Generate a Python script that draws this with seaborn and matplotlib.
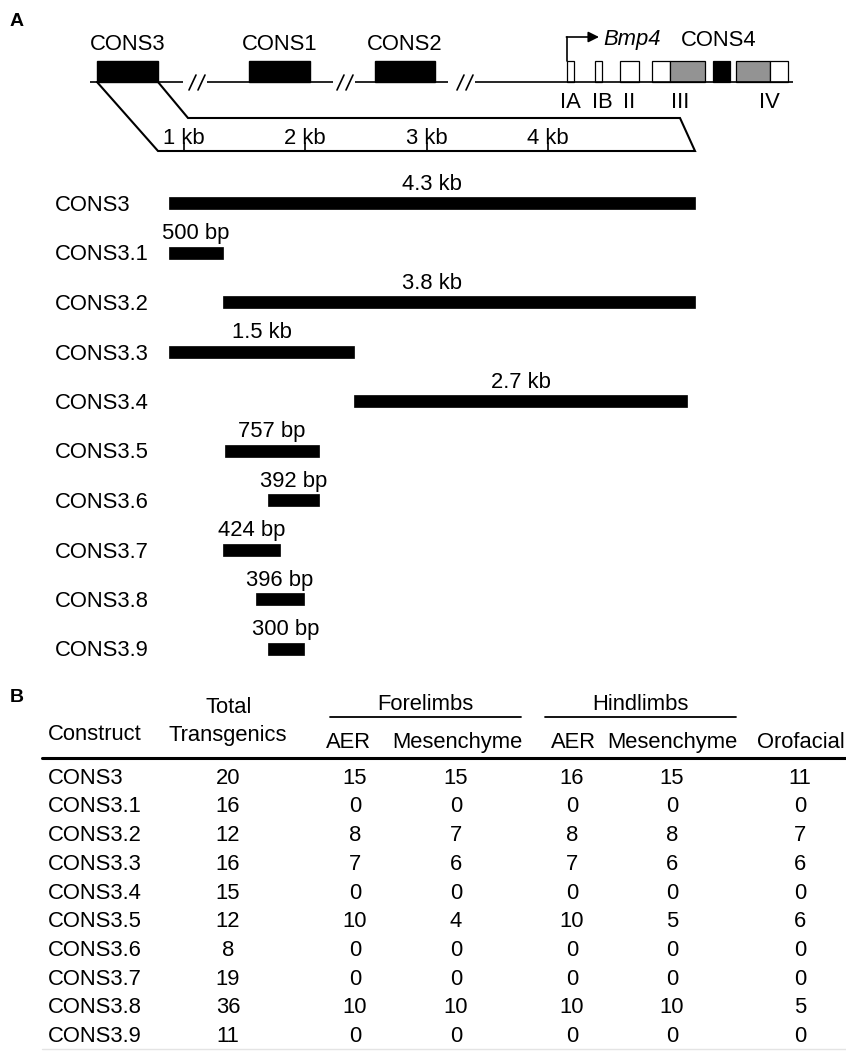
import numpy as np
import pandas as pd
import matplotlib
matplotlib.use("Agg")
import matplotlib.pyplot as plt
import matplotlib.transforms as mtransforms
from matplotlib.patches import Rectangle
import seaborn as sns

sns.set_theme(style="white")
plt.rcParams["font.family"] = ["Liberation Sans", "DejaVu Sans"]
plt.rcParams["text.color"] = "black"

# ---- data: CONS3 fragments (kb, on the scale of the enlarged region) ----
fragments = ["CONS3", "CONS3.1", "CONS3.2", "CONS3.3", "CONS3.4",
             "CONS3.5", "CONS3.6", "CONS3.7", "CONS3.8", "CONS3.9"]
frag_start = [0.88, 0.88, 1.32, 0.88, 2.40, 1.34, 1.69, 1.32, 1.59, 1.69]
frag_end = [5.21, 1.32, 5.21, 2.40, 5.15, 2.11, 2.11, 1.79, 1.99, 1.99]
frag_size = ["4.3 kb", "500 bp", "3.8 kb", "1.5 kb", "2.7 kb",
             "757 bp", "392 bp", "424 bp", "396 bp", "300 bp"]
scale_ticks = [1, 2, 3, 4]

# ---- data: table B ----
total = [20, 16, 12, 16, 15, 12, 8, 19, 36, 11]
fore_aer = [15, 0, 8, 7, 0, 10, 0, 0, 10, 0]
fore_mes = [15, 0, 7, 6, 0, 4, 0, 0, 10, 0]
hind_aer = [16, 0, 8, 7, 0, 10, 0, 0, 10, 0]
hind_mes = [15, 0, 8, 6, 0, 5, 0, 0, 10, 0]
orofacial = [11, 0, 7, 6, 0, 6, 0, 0, 5, 0]

df = pd.DataFrame({"Construct": fragments, "Total": total,
                   "F_AER": fore_aer, "F_Mes": fore_mes,
                   "H_AER": hind_aer, "H_Mes": hind_mes,
                   "Orofacial": orofacial})

FS = 15.8
CAP = 7.8  # half cap height in px, to place baselines

fig = plt.figure(figsize=(8.46, 10.52), dpi=100)
ax = fig.add_axes([0, 0, 1, 1])
ax.set_xlim(0, 846)
ax.set_ylim(1052, 0)
ax.axis("off")


def txt(x, y, s, ha="center", **kw):
    ax.text(x, y + CAP, s, ha=ha, va="baseline", fontsize=kw.pop("fontsize", FS),
            color="black", **kw)


# panel letters
ax.text(17, 19 + 6.8, "A", ha="center", va="baseline", fontsize=14, fontweight="bold")
ax.text(17, 695 + 6.8, "B", ha="center", va="baseline", fontsize=14, fontweight="bold")

# ---- locus schematic ----
LINE_Y = 82
BOX_TOP = 61
for x0, x1 in [(90, 183), (207, 333), (355, 448), (475, 793)]:
    ax.plot([x0, x1], [LINE_Y, LINE_Y], color="black", lw=1.2, solid_capstyle="butt")
for bx in [189, 337, 457]:
    for dx in [0, 9]:
        ax.plot([bx + dx, bx + dx + 7], [90, 75], color="black", lw=1.2)

for (x0, x1), name in zip([(97, 158), (249, 310), (375, 435)], ["CONS3", "CONS1", "CONS2"]):
    ax.add_patch(Rectangle((x0, BOX_TOP), x1 - x0, LINE_Y - BOX_TOP, facecolor="black",
                           edgecolor="black", lw=1))
    txt((x0 + x1) / 2, 42, name)

exon_boxes = [(567, 574, "white"), (595, 602, "white"), (620, 639, "white"),
              (652, 670, "white"), (670, 705, "#939393"), (713, 730, "black"),
              (736, 770, "#939393"), (770, 788, "white")]
for x0, x1, c in exon_boxes:
    ax.add_patch(Rectangle((x0, BOX_TOP), x1 - x0, LINE_Y - BOX_TOP, facecolor=c,
                           edgecolor="black", lw=0.9))
for x, lab in zip([570, 602, 629, 680, 769], ["IA", "IB", "II", "III", "IV"]):
    txt(x, 100, lab)

# promoter arrow
ax.plot([567, 567], [BOX_TOP, 37], color="black", lw=1.2)
ax.annotate("", xy=(599, 37), xytext=(566.4, 37),
            arrowprops=dict(arrowstyle="-|>", mutation_scale=16, lw=1.2,
                            color="black", shrinkA=0, shrinkB=0))
txt(603, 37, "Bmp4", ha="left", style="italic")
txt(719, 38, "CONS4")

# zoom trapezoid
ax.plot([97, 158, 695, 680, 188, 158], [82, 151, 151, 118, 118, 82],
        color="black", lw=1.5, solid_joinstyle="miter")

# ---- fragment axes (x in kb, y in rows) ----
PX_PER_KB = 121.3
KB1_PX = 184
ROW0 = 203
ROW_H = 49.5
axf = fig.add_axes([0, 0, 1, 1])
axf.set_xlim(1 - KB1_PX / PX_PER_KB, 1 + (846 - KB1_PX) / PX_PER_KB)
axf.set_ylim((1052 - ROW0) / ROW_H, -ROW0 / ROW_H)
axf.axis("off")
axf.patch.set_alpha(0)

rows = np.arange(len(fragments))
start = np.array(frag_start)
end = np.array(frag_end)
axf.barh(rows, end - start, left=start, height=12 / ROW_H, color="black",
         edgecolor="black", lw=0.5)

lab_tr = mtransforms.blended_transform_factory(ax.transData, axf.transData)
for i, name in enumerate(fragments):
    axf.text(55, i, name, transform=lab_tr, ha="left", va="center_baseline",
             fontsize=FS)
    cx = (start[i] + end[i]) / 2
    if name == "CONS3.2":
        cx = (start[0] + end[0]) / 2
    axf.annotate(frag_size[i], (cx, i), xytext=(0, 13.3 * 0.72),
                 textcoords="offset points", ha="center", va="baseline",
                 fontsize=FS)

tick_tr = mtransforms.blended_transform_factory(axf.transData, ax.transData)
for t in scale_ticks:
    axf.plot([t, t], [143, 151], color="black", lw=1.2, transform=tick_tr)
    axf.text(t, 136 + CAP, f"{t} kb", transform=tick_tr, ha="center",
             va="baseline", fontsize=FS)

# ---- table B ----
txt(48, 732, "Construct", ha="left")
txt(229, 705, "Total")
txt(228, 733, "Transgenics")
txt(425.5, 702, "Forelimbs")
txt(640.5, 702, "Hindlimbs")
ax.plot([330, 521], [717, 717], color="black", lw=1.3)
ax.plot([545, 736], [717, 717], color="black", lw=1.3)
for x, lab in zip([348, 457, 573, 672, 801],
                  ["AER", "Mesenchyme", "AER", "Mesenchyme", "Orofacial"]):
    txt(x, 740, lab)
ax.plot([42, 846], [758, 758], color="black", lw=2.2)

col_x = {"Total": 228, "F_AER": 355, "F_Mes": 456, "H_AER": 572,
         "H_Mes": 672, "Orofacial": 800}
TROW0 = 776
TROW_H = 28.7
for i, r in df.iterrows():
    y = TROW0 + TROW_H * i
    txt(48, y, r["Construct"], ha="left")
    for c, x in col_x.items():
        txt(x, y, str(r[c]))
ax.plot([42, 846], [1049, 1049], color="#e4e4e4", lw=1)

fig.savefig("out.png", dpi=100)
